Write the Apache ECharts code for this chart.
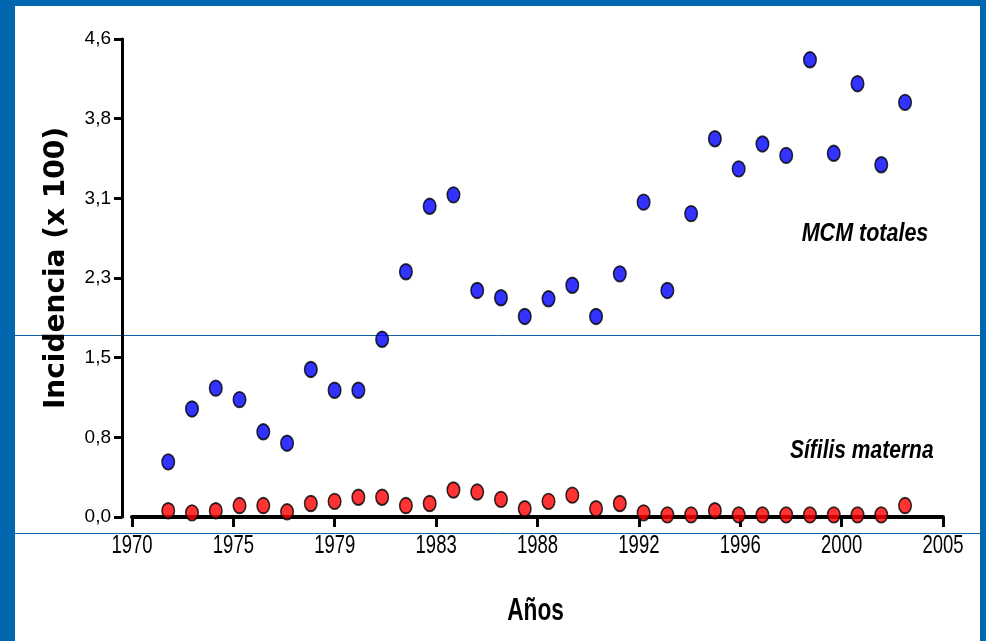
<!DOCTYPE html>
<html>
<head>
<meta charset="utf-8">
<script src="https://cdn.jsdelivr.net/npm/echarts@6/dist/echarts.min.js"></script>
<style>
  html, body { margin: 0; padding: 0; background: #0066ae; }
  body { width: 986px; height: 641px; position: relative; overflow: hidden; }
  #chart { position: absolute; left: 15px; top: 6px; width: 965px; height: 635px; background: #ffffff; }
</style>
</head>
<body>
<div id="chart"></div>
<script>
// ---- data ----
const years = [1972, 1973, 1974, 1975, 1976, 1977, 1978, 1979, 1980, 1981,
               1982, 1983, 1984, 1985, 1986, 1987, 1988, 1989, 1990, 1991,
               1992, 1993, 1994, 1995, 1996, 1997, 1998, 1999, 2000, 2001,
               2002, 2003];
const mcmTotales = [0.53, 1.04, 1.24, 1.13, 0.82, 0.71, 1.42, 1.22, 1.22, 1.71,
                    2.36, 2.99, 3.10, 2.18, 2.11, 1.93, 2.10, 2.23, 1.93, 2.34,
                    3.03, 2.18, 2.92, 3.64, 3.35, 3.59, 3.48, 4.40, 3.50, 4.17,
                    3.39, 3.99];
const sifilisMaterna = [0.06, 0.04, 0.06, 0.11, 0.11, 0.05, 0.13, 0.15, 0.19, 0.19,
                        0.11, 0.13, 0.26, 0.24, 0.17, 0.08, 0.15, 0.21, 0.08, 0.13,
                        0.04, 0.02, 0.02, 0.06, 0.02, 0.02, 0.02, 0.02, 0.02, 0.02,
                        0.02, 0.11];
const xTickLabels = ['1970', '1975', '1979', '1983', '1988', '1992', '1996', '2000', '2005'];
const yTickLabels = ['0,0', '0,8', '1,5', '2,3', '3,1', '3,8', '4,6'];
const seriesNames = ['MCM totales', 'Sífilis materna'];
const axisTitles = { x: 'Años', y: 'Incidencia (x 100)' };

// ---- axis scale setup ----
const xInterval = 4.2651;
const xMin = 462 * xInterval;
const xMax = 470 * xInterval;
const yInterval = 4.6 / 6;

const sans = '"Liberation Sans", Arial, sans-serif';
const markerStyle = (color) => ({ color: color, borderColor: '#000000', borderWidth: 1.7 });

const chart = echarts.init(document.getElementById('chart'), null, { renderer: 'canvas' });

chart.setOption({
  animation: false,
  backgroundColor: '#ffffff',
  grid: { left: 117, right: 37, top: 33, bottom: 124, containLabel: false },
  xAxis: {
    type: 'value',
    min: xMin,
    max: xMax,
    interval: xInterval,
    splitLine: { show: false },
    axisLine: { show: true, lineStyle: { color: '#000', width: 4 } },
    axisTick: { show: true, inside: false, length: 10, lineStyle: { color: '#000', width: 3 } },
    axisLabel: { show: false }
  },
  yAxis: {
    type: 'value',
    min: 0,
    max: 4.6,
    interval: yInterval,
    offset: 10,
    splitLine: { show: false },
    axisLine: { show: true, lineStyle: { color: '#000', width: 3 } },
    axisTick: { show: true, length: 8, lineStyle: { color: '#000', width: 3 } },
    axisLabel: {
      margin: 11,
      fontFamily: sans,
      fontSize: 19,
      color: '#000',
      formatter: function (v) {
        const i = Math.round(v / yInterval);
        return yTickLabels[i] !== undefined ? yTickLabels[i] : '';
      }
    }
  },
  series: [
    {
      name: seriesNames[0],
      type: 'scatter',
      symbol: 'circle',
      symbolSize: [12.5, 15.5],
      itemStyle: markerStyle('#0000ff'),
      z: 3,
      data: years.map((y, i) => [y, mcmTotales[i]])
    },
    {
      name: seriesNames[1],
      type: 'scatter',
      symbol: 'circle',
      symbolSize: [12.5, 15.5],
      itemStyle: markerStyle('#ff0000'),
      z: 3,
      data: years.map((y, i) => [y, sifilisMaterna[i]])
    }
  ]
});

// ---- condensed texts (tick labels of x, titles, annotations) placed through the axis scales ----
const axisY = chart.convertToPixel({ yAxisIndex: 0 }, 0);
const gridMidX = (chart.convertToPixel({ xAxisIndex: 0 }, xMin) + chart.convertToPixel({ xAxisIndex: 0 }, xMax)) / 2;
const gridMidY = (chart.convertToPixel({ yAxisIndex: 0 }, 0) + chart.convertToPixel({ yAxisIndex: 0 }, 4.6)) / 2;

function condensed(text, x, y, opts) {
  return {
    type: 'text', x: x, y: y, scaleX: opts.scaleX || 1, rotation: opts.rotation || 0,
    z: 10, silent: true,
    style: {
      text: text, x: 0, y: 0,
      fontFamily: opts.fontFamily || sans,
      fontSize: opts.fontSize, fontWeight: opts.fontWeight || 'normal', fontStyle: opts.fontStyle || 'normal',
      fill: '#000',
      align: opts.align || 'center', verticalAlign: opts.verticalAlign || 'middle',
      textAlign: opts.align || 'center', textVerticalAlign: opts.verticalAlign || 'middle'
    }
  };
}

const graphics = [
  { type: 'line', z: -10, silent: true, shape: { x1: 0, y1: 329.5, x2: 965, y2: 329.5 }, style: { stroke: '#1060a8', lineWidth: 1 } },
  { type: 'line', z: -10, silent: true, shape: { x1: 0, y1: 527.5, x2: 965, y2: 527.5 }, style: { stroke: '#1060a8', lineWidth: 1 } }
];
xTickLabels.forEach(function (lab, i) {
  const px = chart.convertToPixel({ xAxisIndex: 0 }, xMin + i * xInterval);
  graphics.push(condensed(lab, px, axisY + 29, { fontSize: 25, scaleX: 0.74 }));
});
graphics.push(condensed(axisTitles.x, gridMidX - 2, axisY + 94, { fontSize: 31, fontWeight: 'bold', scaleX: 0.73 }));
graphics.push(condensed(axisTitles.y, 42, gridMidY - 10, {
  fontSize: 28, fontWeight: 'bold', fontFamily: '"DejaVu Sans", sans-serif', rotation: Math.PI / 2
}));
graphics.push(condensed(seriesNames[0], 786.7, 216, { fontSize: 25, fontWeight: 'bold', fontStyle: 'italic', scaleX: 0.86, align: 'left', verticalAlign: 'top' }));
graphics.push(condensed(seriesNames[1], 775, 433, { fontSize: 25, fontWeight: 'bold', fontStyle: 'italic', scaleX: 0.84, align: 'left', verticalAlign: 'top' }));

chart.setOption({ graphic: graphics });
</script>
</body>
</html>
